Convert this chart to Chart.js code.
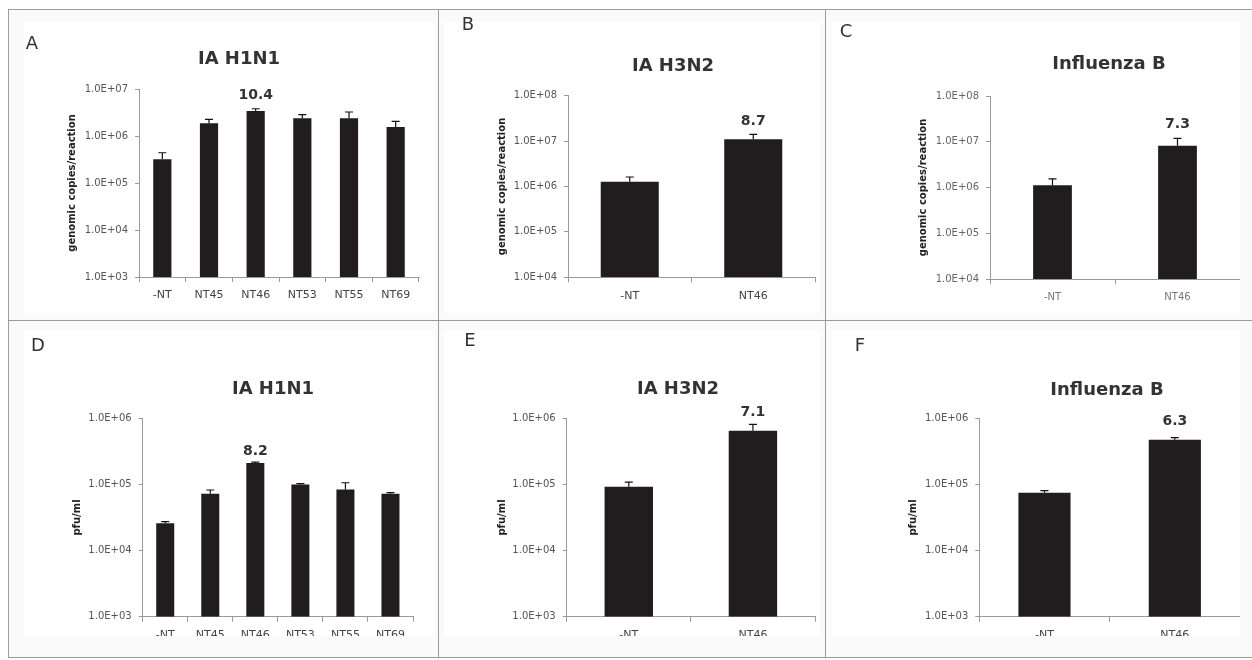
<!DOCTYPE html>
<html>
<head>
<meta charset="utf-8">
<script src="https://cdn.jsdelivr.net/npm/chart.js@4.4.1/dist/chart.umd.min.js"></script>
<style>
  body { margin: 0; width: 1252px; height: 660px; background: #fff; position: relative; overflow: hidden; font-family: "DejaVu Sans", sans-serif; }
  .frame { position: absolute; left: 8px; top: 9px; width: 1270px; height: 647px; border: 1px solid #9c9c9c; background: #fafafa; }
  .vline { position: absolute; top: 9px; width: 1px; height: 649px; background: #9c9c9c; }
  .hline { position: absolute; left: 8px; top: 320px; width: 1250px; height: 1px; background: #9c9c9c; }
  .box { position: absolute; background: #fff; overflow: hidden; }
  .box canvas { position: absolute; left: 0; top: 0; }
  .letter { position: absolute; font-size: 18px; color: #333; transform: translate(-50%, -50%); line-height: 1; }
  .title { position: absolute; font-size: 18px; font-weight: bold; color: #333; transform: translate(-50%, -50%); line-height: 1; white-space: nowrap; }
</style>
</head>
<body>
<div class="frame"></div>
<div class="vline" style="left:438px"></div>
<div class="vline" style="left:825px"></div>
<div class="hline"></div>

<script>
// DATA
const sixStrains = ["-NT", "NT45", "NT46", "NT53", "NT55", "NT69"];
const twoStrains = ["-NT", "NT46"];

// genomic copies / reaction (mean and mean + error)
const h1n1Copies = [3.2e5, 1.86e6, 3.4e6, 2.4e6, 2.4e6, 1.55e6];
const h1n1CopiesUp = [4.4e5, 2.26e6, 3.8e6, 2.84e6, 3.24e6, 2.05e6];
const h3n2Copies = [1.28e6, 1.1e7];
const h3n2CopiesUp = [1.62e6, 1.41e7];
const fluBCopies = [1.12e6, 8.2e6];
const fluBCopiesUp = [1.54e6, 1.19e7];

// pfu / ml
const h1n1Pfu = [2.58e4, 7.2e4, 2.11e5, 1.0e5, 8.4e4, 7.2e4];
const h1n1PfuUp = [2.73e4, 8.24e4, 2.18e5, 1.03e5, 1.06e5, 7.5e4];
const h3n2Pfu = [9.25e4, 6.5e5];
const h3n2PfuUp = [1.08e5, 8.1e5];
const fluBPfu = [7.5e4, 4.75e5];
const fluBPfuUp = [8.05e4, 5.1e5];

// fold labels over NT46
const foldLabels = ["10.4", "8.7", "7.3", "8.2", "7.1", "6.3"];

// tick values (decades)
const ticksA = [1e3, 1e4, 1e5, 1e6, 1e7];
const ticksBC = [1e4, 1e5, 1e6, 1e7, 1e8];
const ticksDEF = [1e3, 1e4, 1e5, 1e6];

function sciLabel(v) {
  const e = Math.round(Math.log10(v));
  return "1.0E+" + String(e).padStart(2, "0");
}

// ERROR BARS + FOLD LABEL
const errorBars = {
  id: "errorBars",
  afterDatasetsDraw(chart, args, opts) {
    const ctx = chart.ctx;
    const meta = chart.getDatasetMeta(0);
    const yScale = chart.scales.y;
    ctx.save();
    ctx.strokeStyle = "#111";
    ctx.lineWidth = 1.2;
    opts.upper.forEach((u, i) => {
      const bar = meta.data[i];
      const yt = yScale.getPixelForValue(u);
      ctx.beginPath();
      ctx.moveTo(bar.x, bar.y);
      ctx.lineTo(bar.x, yt);
      ctx.moveTo(bar.x - 4, yt);
      ctx.lineTo(bar.x + 4, yt);
      ctx.stroke();
    });
    const b = meta.data[opts.labelIndex];
    const yl = yScale.getPixelForValue(opts.upper[opts.labelIndex]) - opts.gap;
    ctx.fillStyle = "#333";
    ctx.font = "bold 14px 'DejaVu Sans'";
    ctx.textAlign = "center";
    ctx.textBaseline = "middle";
    ctx.fillText(opts.label, b.x, yl);
    ctx.restore();
  },
};

function addText(cls, text, x, y) {
  const d = document.createElement("div");
  d.className = cls;
  d.textContent = text;
  d.style.left = x + "px";
  d.style.top = y + "px";
  document.body.appendChild(d);
}

function makePanel(p) {
  const wrap = document.createElement("div");
  wrap.className = "box";
  wrap.style.left = p.box.x + "px";
  wrap.style.top = p.box.y + "px";
  wrap.style.width = p.box.w + "px";
  wrap.style.height = p.box.h + "px";
  const cw = p.box.w;
  const ch = p.box.h + (p.clip || 0);
  const canvas = document.createElement("canvas");
  canvas.width = cw;
  canvas.height = ch;
  canvas.style.width = cw + "px";
  canvas.style.height = ch + "px";
  wrap.appendChild(canvas);
  document.body.appendChild(wrap);

  const plotL = p.plot.l - p.box.x;
  const plotR = p.plot.r - p.box.x;
  const plotT = p.plot.t - p.box.y;
  const plotB = p.plot.b - p.box.y;
  const axisLeft = p.titleX - p.box.x - 10;

  new Chart(canvas, {
    type: "bar",
    data: {
      labels: p.labels,
      datasets: [{
        data: p.values,
        backgroundColor: "#211d1e",
        borderWidth: 0,
        barPercentage: p.barPct,
        categoryPercentage: 1,
      }],
    },
    options: {
      responsive: false,
      animation: false,
      layout: { padding: { left: axisLeft, top: plotT, right: cw - plotR, bottom: 0 } },
      plugins: {
        legend: { display: false },
        tooltip: { enabled: false },
        errorBars: { upper: p.upper, label: p.fold, labelIndex: 1 + (p.labels.length > 2 ? 1 : 0), gap: p.gap },
      },
      scales: {
        x: {
          afterFit: (s) => { s.height = ch - plotB; },
          grid: { drawOnChartArea: false, tickLength: 5, color: "#9a9a9a", offset: true },
          border: { color: "#9a9a9a" },
          ticks: { font: { family: "DejaVu Sans", size: p.xFont }, color: p.xColor, padding: 7 },
        },
        y: {
          type: "logarithmic",
          min: p.ticks[0],
          max: p.ticks[p.ticks.length - 1],
          afterFit: (s) => { s.width = plotL - axisLeft; },
          afterBuildTicks: (s) => { s.ticks = p.ticks.map((v) => ({ value: v })); },
          grid: { drawOnChartArea: false, tickLength: 4, color: "#9a9a9a" },
          border: { color: "#9a9a9a" },
          ticks: { callback: (v) => sciLabel(v), font: { family: "DejaVu Sans", size: 10 }, color: p.yColor, padding: 7 },
          title: {
            display: true,
            text: p.yTitle,
            font: { family: "DejaVu Sans", size: 10, weight: "bold" },
            color: "#222",
            padding: { top: 4, bottom: 4 },
          },
        },
      },
    },
    plugins: [errorBars],
  });
}

makePanel({
  box: { x: 24, y: 22, w: 410, h: 291 }, plot: { l: 139, r: 419, t: 89, b: 277 }, titleX: 72,
  labels: sixStrains, values: h1n1Copies, upper: h1n1CopiesUp, ticks: ticksA, fold: foldLabels[0],
  yTitle: "genomic copies/reaction", barPct: 0.39, gap: 13, xFont: 11, xColor: "#444", yColor: "#555",
});
makePanel({
  box: { x: 444, y: 22, w: 376, h: 291 }, plot: { l: 568, r: 815, t: 95.7, b: 277.3 }, titleX: 502,
  labels: twoStrains, values: h3n2Copies, upper: h3n2CopiesUp, ticks: ticksBC, fold: foldLabels[1],
  yTitle: "genomic copies/reaction", barPct: 0.47, gap: 13, xFont: 11, xColor: "#444", yColor: "#555",
});
makePanel({
  box: { x: 832, y: 22, w: 408, h: 291 }, plot: { l: 990, r: 1240, t: 96, b: 279 }, titleX: 923,
  labels: twoStrains, values: fluBCopies, upper: fluBCopiesUp, ticks: ticksBC, fold: foldLabels[2],
  yTitle: "genomic copies/reaction", barPct: 0.31, gap: 14, xFont: 10, xColor: "#777", yColor: "#666",
});
makePanel({
  box: { x: 24, y: 330, w: 410, h: 306 }, clip: 26, plot: { l: 142.7, r: 413, t: 418.3, b: 616.7 }, titleX: 77,
  labels: sixStrains, values: h1n1Pfu, upper: h1n1PfuUp, ticks: ticksDEF, fold: foldLabels[3],
  yTitle: "pfu/ml", barPct: 0.4, gap: 11, xFont: 11, xColor: "#444", yColor: "#555",
});
makePanel({
  box: { x: 444, y: 330, w: 376, h: 306 }, clip: 26, plot: { l: 566.7, r: 815, t: 418.3, b: 616.7 }, titleX: 502,
  labels: twoStrains, values: h3n2Pfu, upper: h3n2PfuUp, ticks: ticksDEF, fold: foldLabels[4],
  yTitle: "pfu/ml", barPct: 0.39, gap: 12, xFont: 11, xColor: "#444", yColor: "#555",
});
makePanel({
  box: { x: 832, y: 330, w: 408, h: 306 }, clip: 26, plot: { l: 979.3, r: 1240.7, t: 418.3, b: 616.7 }, titleX: 913,
  labels: twoStrains, values: fluBPfu, upper: fluBPfuUp, ticks: ticksDEF, fold: foldLabels[5],
  yTitle: "pfu/ml", barPct: 0.4, gap: 16, xFont: 11, xColor: "#444", yColor: "#555",
});

// PANEL LETTERS AND TITLES
addText("letter", "A", 32, 43);
addText("letter", "B", 468, 24);
addText("letter", "C", 846, 31);
addText("letter", "D", 38, 345);
addText("letter", "E", 470, 340);
addText("letter", "F", 860, 345);
addText("title", "IA H1N1", 239, 58);
addText("title", "IA H3N2", 673, 65);
addText("title", "Influenza B", 1109, 63);
addText("title", "IA H1N1", 273, 388);
addText("title", "IA H3N2", 678, 388);
addText("title", "Influenza B", 1107, 389);
</script>
</body>
</html>
